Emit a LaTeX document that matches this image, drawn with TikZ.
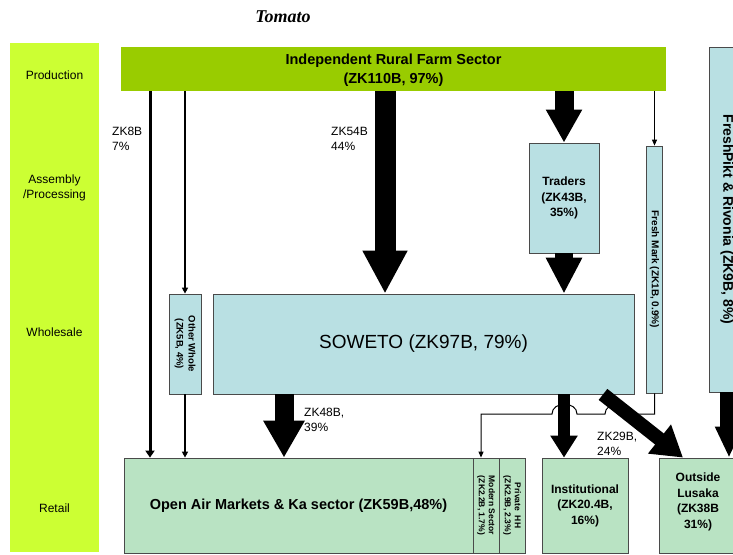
\documentclass[tikz,border=0pt]{standalone}
\usepackage{fontspec}
\setmainfont{Liberation Sans}
\newfontfamily\titlefont{Liberation Serif}
\usetikzlibrary{arrows.meta}
\definecolor{stagelime}{HTML}{CCFF33}
\definecolor{farmgreen}{HTML}{99CC00}
\definecolor{boxblue}{HTML}{B9E0E3}
\definecolor{retailgreen}{HTML}{B9E3C3}
\definecolor{boxedge}{HTML}{4A4A4A}

\begin{document}
\begin{tikzpicture}[x=1pt,y=-1pt]
\tikzstyle{every node}+=[inner sep=0pt]
\tikzstyle{stagetxt}=[font=\fontsize{12}{15}\selectfont, align=center]
\tikzstyle{bluebox}=[draw=boxedge, line width=0.8pt, fill=boxblue]
\tikzstyle{retailbox}=[draw=boxedge, line width=0.8pt, fill=retailgreen]
\tikzstyle{bigtxt}=[font=\bfseries\fontsize{14.5}{19}\selectfont, align=center]
\tikzstyle{midtxt}=[font=\bfseries\fontsize{12}{15.5}\selectfont, align=center]
\tikzstyle{smalltxt}=[font=\bfseries\fontsize{8.5}{10}\selectfont, align=center, rotate=-90]
\tikzstyle{flowtxt}=[font=\fontsize{12}{15}\selectfont, align=left, anchor=west]
\tikzstyle{thinflow}=[line width=1pt, -{Triangle[width=5pt,length=6pt]}]
\useasboundingbox (0,0) rectangle (733,554);
\clip (0,0) rectangle (733,554);

\node[font=\titlefont\bfseries\itshape\fontsize{18}{20}\selectfont] (title) at (283,17) {Tomato};

\node[fill=stagelime, minimum width=89, minimum height=509] (stages) at (54.5,297.5) {};
\node[stagetxt] (sprod) at (54.5,75.5) {Production};
\node[stagetxt] (sassy) at (54.5,187.5) {Assembly\\/Processing};
\node[stagetxt] (swhole) at (54.5,332.5) {Wholesale};
\node[stagetxt] (sretail) at (54.5,508) {Retail};

\node[fill=farmgreen, minimum width=545, minimum height=44] (farm) at (393.5,69) {};
\node[bigtxt] (farmtxt) at (393.5,70.5) {Independent Rural Farm Sector\\(ZK110B, 97\%)};

\node[bluebox, minimum width=36, minimum height=345] (freshpikt) at (727,219.5) {};
\node[bigtxt, font=\bfseries\fontsize{14}{17}\selectfont, rotate=-90] (freshpikttxt) at (freshpikt) {FreshPikt \& Rivonia (ZK9B, 8\%)};
\node[bluebox, minimum width=16, minimum height=247] (fmark) at (654.5,269.5) {};
\node[smalltxt, font=\bfseries\fontsize{10}{11}\selectfont] (fmarktxt) at (fmark) {Fresh Mark (ZK1B, 0.9\%)};
\node[bluebox, minimum width=70, minimum height=110, midtxt] (traders) at (564,198) {Traders\\(ZK43B,\\35\%)};
\node[bluebox, minimum width=421, minimum height=100, font=\fontsize{19}{22}\selectfont] (soweto) at (423.5,344) {SOWETO (ZK97B, 79\%)};
\node[bluebox, minimum width=32, minimum height=100] (otherwhole) at (185,344) {};
\node[smalltxt, font=\bfseries\fontsize{9.5}{12}\selectfont] (otherwholetxt) at (otherwhole) {Other Whole\\(ZK5B, 4\%)};

\node[retailbox, minimum width=349, minimum height=95, bigtxt] (openair) at (298.5,505.5) {Open Air Markets \& Ka sector (ZK59B,48\%)};
\node[retailbox, minimum width=26, minimum height=95] (modern) at (486,505.5) {};
\node[smalltxt] (moderntxt) at (modern) {Modern Sector\\(ZK2.2B, 1.7\%)};
\node[retailbox, minimum width=26, minimum height=95] (privhh) at (512,505.5) {};
\node[smalltxt] (privhhtxt) at (privhh) {Private~~HH\\(ZK2.9B, 2.3\%)};
\node[retailbox, minimum width=86, minimum height=95, midtxt] (instit) at (585,505.5) {Institutional\\(ZK20.4B,\\16\%)};
\node[retailbox, minimum width=78, minimum height=95] (outside) at (698,505.5) {};
\node[midtxt] (outsidetxt) at (698,502) {Outside\\Lusaka\\(ZK38B\\31\%)};

\coordinate (a8) at (150,0);
\coordinate (a54) at (385,0);
\coordinate (atr) at (564,0);
\coordinate (a48) at (284,0);
\coordinate (d1) at (603,0);
\coordinate (d2) at (683,0);
\coordinate (afp) at (729,0);
\coordinate (fmbend) at (481,414);

\draw[line width=3pt, -{Triangle[width=9pt,length=7pt]}] (farm.south -| a8) -- (openair.north -| a8);
\draw[line width=1.8pt, -{Triangle[width=6pt,length=6pt]}] (farm.south -| otherwhole) -- (otherwhole.north);
\draw[line width=1.8pt, -{Triangle[width=6pt,length=6pt]}] (otherwhole.south) -- (otherwhole.south |- openair.north);
\draw[thinflow] (farm.south -| fmark) -- (fmark.north);
\draw[thinflow] (fmark.south) -- (fmark.south |- fmbend) -- (630,414) .. controls (630,401) and (605,401) .. (605,414) -- (577,414) .. controls (577,401) and (552,401) .. (552,414) -- (fmbend) -- (fmbend |- modern.north);

\draw[line width=21pt, -{Triangle[width=42pt,length=43pt]}] (farm.south -| a54) -- (soweto.north -| a54);
\draw[line width=19pt, -{Triangle[width=34pt,length=33pt]}] (farm.south -| atr) -- (traders.north);
\draw[line width=18pt, -{Triangle[width=34pt,length=36pt]}] (traders.south) -- (soweto.north -| atr);
\draw[line width=19pt, -{Triangle[width=39pt,length=37pt]}] (soweto.south -| a48) -- (openair.north -| a48);
\draw[line width=12pt, -{Triangle[width=26pt,length=22pt]}] (soweto.south -| atr) -- (instit.north -| atr);
\draw[line width=14pt, -{Triangle[width=35pt,length=30pt]}] (soweto.south -| d1) -- (outside.north -| d2);
\draw[line width=18pt, -{Triangle[width=26pt,length=31pt]}] (freshpikt.south -| afp) -- (outside.north -| afp);

\node[flowtxt] (l8) at (112,138.5) {ZK8B\\7\%};
\node[flowtxt] (l54) at (331,138.5) {ZK54B\\44\%};
\node[flowtxt] (l48) at (304,419.5) {ZK48B,\\39\%};
\node[flowtxt] (l29) at (597,443.5) {ZK29B,\\24\%};
\end{tikzpicture}
\end{document}
